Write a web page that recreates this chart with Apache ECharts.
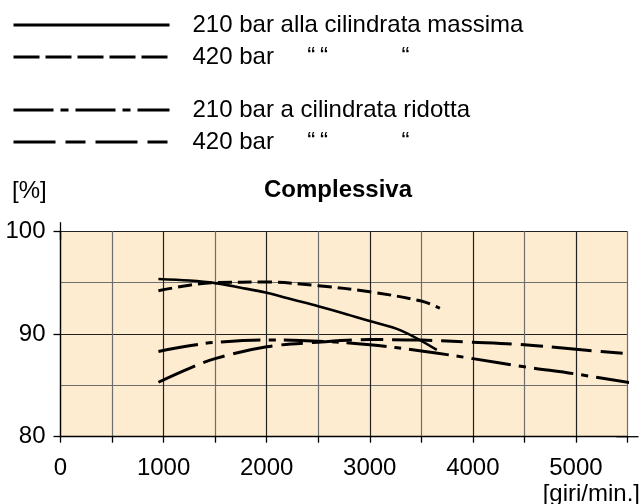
<!DOCTYPE html>
<html>
<head>
<meta charset="utf-8">
<script src="https://cdn.jsdelivr.net/npm/echarts@6/dist/echarts.min.js"></script>
<style>
  html, body { margin: 0; padding: 0; background: #fff; }
  #chart { width: 643px; height: 504px; }
</style>
</head>
<body>
<div id="chart"></div>
<script>
// Overall efficiency [%] against shaft speed [giri/min.]
const xTicks = [0, 1000, 2000, 3000, 4000, 5000];
const yTicks = [80, 90, 100];

// 210 bar, maximum displacement
const rpmMax210 = [950, 1250, 1500, 1750, 2000, 2250, 2500, 2750, 3000, 3300, 3650];
const effMax210 = [95.35, 95.2, 94.95, 94.5, 94.0, 93.35, 92.7, 92.0, 91.25, 90.35, 88.45];

// 420 bar, maximum displacement
const rpmMax420 = [950, 1250, 1500, 2000, 2500, 3000, 3500, 3680];
const effMax420 = [94.2, 94.75, 95.0, 95.05, 94.7, 94.1, 93.2, 92.5];

// 210 bar, reduced displacement
const rpmRed210 = [950, 1250, 1500, 2000, 2500, 3000, 3500, 4000, 4500, 5000, 5620];
const effRed210 = [88.3, 88.85, 89.18, 89.42, 89.3, 88.95, 88.35, 87.6, 86.8, 86.1, 85.1];

// 420 bar, reduced displacement
const rpmRed420 = [950, 1250, 1500, 2000, 2500, 3000, 3500, 4000, 4500, 5000, 5620];
const effRed420 = [85.3, 86.65, 87.6, 88.75, 89.2, 89.45, 89.4, 89.2, 88.95, 88.5, 88.0];

const names = {
  max210: '210 bar alla cilindrata massima',
  max420: '420 bar alla cilindrata massima',
  red210: '210 bar a cilindrata ridotta',
  red420: '420 bar a cilindrata ridotta'
};
// the 420 bar rows repeat the wording of the row above with ditto marks
const ditto = '420 bar' + ' '.repeat(5) + '\u201C\u2009\u201C' + ' '.repeat(11) + '\u201C';
const legendText = {
  [names.max210]: names.max210,
  [names.max420]: ditto,
  [names.red210]: names.red210,
  [names.red420]: ditto
};

const zip = (xs, ys) => xs.map((x, i) => [x, ys[i]]);
const FONT = "'Liberation Sans', Arial, Helvetica, sans-serif";

const dash = {
  max420: [14, 6],
  red210: [40, 8, 7, 8],
  red420: [40, 9, 22, 9]
};
const legendDash = {
  max420: [26, 6],
  red210: [40, 7, 8, 7],
  red420: [42, 10, 20, 10]
};

function curve(name, xs, ys, type, width) {
  return {
    name: name,
    type: 'line',
    data: zip(xs, ys),
    smooth: 0.35,
    symbol: 'none',
    clip: false,
    lineStyle: { color: '#000', width: width, type: type },
    itemStyle: { color: '#000' },
    z: 5
  };
}

function legendBlock(top, items) {
  return {
    top: top,
    left: 12,
    padding: 0,
    orient: 'vertical',
    itemWidth: 156,
    itemHeight: 24,
    itemGap: 8,
    selectedMode: false,
    data: items,
    formatter: n => legendText[n],
    lineStyle: { width: 3 },
    itemStyle: { opacity: 0 },
    textStyle: { fontFamily: FONT, fontSize: 24, color: '#000', padding: [0, 0, 6, 18] }
  };
}

const chart = echarts.init(document.getElementById('chart'), null, { renderer: 'canvas' });

chart.setOption({
  backgroundColor: '#fff',
  animation: false,
  title: [
    { text: 'Complessiva', left: 264, top: 178, padding: 0,
      textStyle: { fontFamily: FONT, fontSize: 24, fontWeight: 'bold', color: '#000' } },
    { text: '[%]', left: 12, top: 179, padding: 0,
      textStyle: { fontFamily: FONT, fontSize: 24, fontWeight: 'normal', color: '#000' } },
    { text: '[giri/min.]', right: 3, top: 482, padding: 0,
      textStyle: { fontFamily: FONT, fontSize: 24, fontWeight: 'normal', color: '#000' } }
  ],
  legend: [
    legendBlock(13, [
      { name: names.max210 },
      { name: names.max420, lineStyle: { type: legendDash.max420 } }
    ]),
    legendBlock(98, [
      { name: names.red210, lineStyle: { type: legendDash.red210 } },
      { name: names.red420, lineStyle: { type: legendDash.red420 } }
    ])
  ],
  grid: {
    left: 60.5, right: 15.5, top: 231.2, bottom: 67.3,
    show: true, backgroundColor: '#FEECD0', borderWidth: 0
  },
  xAxis: {
    type: 'value',
    min: 0, max: 5500, interval: 500,
    axisLine: {
      show: true,
      lineStyle: { color: '#000', width: 1.3 },
      symbol: ['none', 'rect'], symbolSize: [1.3, 22]
    },
    axisTick: { show: true, length: 6, lineStyle: { color: '#000', width: 1.3 } },
    axisLabel: {
      fontFamily: FONT, fontSize: 24, color: '#000', margin: 20,
      formatter: v => (xTicks.indexOf(v) >= 0 ? String(v) : '')
    },
    splitLine: { show: true, lineStyle: { color: ['#222', '#6e6e6e'], width: 1.2 } }
  },
  yAxis: {
    type: 'value',
    min: 80, max: 100, interval: 10,
    axisLine: {
      show: true,
      lineStyle: { color: '#000', width: 1.3 },
      symbol: ['none', 'rect'], symbolSize: [1.3, 18]
    },
    axisTick: { show: true, length: 7, lineStyle: { color: '#000', width: 1.3 } },
    axisLabel: {
      fontFamily: FONT, fontSize: 24, color: '#000', margin: 15,
      formatter: v => (yTicks.indexOf(v) >= 0 ? String(v) : '')
    },
    splitLine: { show: true, lineStyle: { color: '#222', width: 1.2 } },
    minorTick: { show: false, splitNumber: 2 },
    minorSplitLine: { show: true, lineStyle: { color: '#6e6e6e', width: 1.2 } }
  },
  series: [
    curve(names.max210, rpmMax210, effMax210, 'solid', 2.6),
    curve(names.max420, rpmMax420, effMax420, dash.max420, 3),
    curve(names.red210, rpmRed210, effRed210, dash.red210, 3),
    curve(names.red420, rpmRed420, effRed420, dash.red420, 3)
  ]
});
</script>
</body>
</html>
